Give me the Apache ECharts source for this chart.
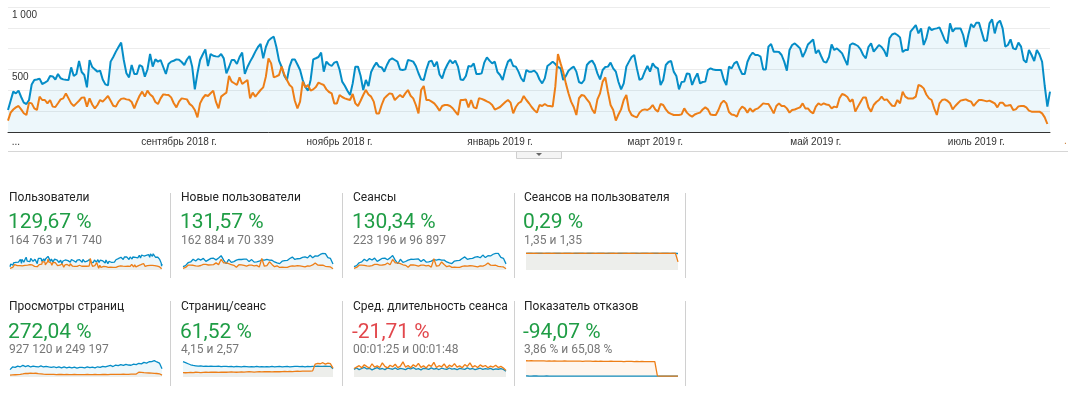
<!DOCTYPE html>
<html><head><meta charset="utf-8">
<script src="https://cdn.jsdelivr.net/npm/echarts@6/dist/echarts.min.js"></script>
<style>html,body{margin:0;padding:0;background:#fff}#c{width:1080px;height:394px}</style>
</head><body><div id="c"></div>
<script>
// ---------- main chart: daily users (current = blue, previous = orange) ----------
const startDate = [2018, 5, 28]; // 28 June 2018
const dayCount = 397;
const usersCur = [
176,250,323,309,331,280,235,224,256,380,
416,420,427,384,395,408,448,445,420,464,
430,421,418,416,517,448,464,568,480,456,
357,576,520,501,483,491,420,381,373,563,
600,643,680,715,576,470,437,536,464,464,
536,523,443,500,624,523,581,563,576,520,
464,544,563,570,581,578,560,536,580,608,
523,341,470,576,620,661,528,624,610,605,
603,624,589,469,520,576,576,544,600,635,
464,520,563,600,643,680,704,589,680,731,
750,763,680,571,520,450,416,523,581,581,
540,496,416,360,331,416,581,590,600,635,
483,563,540,528,555,563,500,403,370,330,
296,389,523,523,
450,336,416,368,480,523,
555,523,517,483,536,576,589,576,563,500,
496,501,576,571,563,528,470,421,416,500,
563,571,523,563,460,429,496,540,576,549,
571,523,420,416,448,528,523,549,464,464,
469,555,597,571,549,563,480,456,416,500,
563,581,528,523,483,430,403,496,483,483,
491,469,420,389,429,528,544,563,544,520,
509,416,448,490,509,523,483,400,389,416,
536,560,571,536,469,421,496,520,523,555,
509,483,400,341,389,523,563,600,616,509,
416,429,483,528,483,549,520,509,376,416,
536,560,568,483,448,341,400,403,469,464,
376,429,469,389,400,403,496,509,500,496,
496,496,420,376,523,509,549,563,509,464,
464,560,608,635,616,616,603,501,501,683,
704,643,643,640,616,563,491,656,696,709,
690,669,600,643,700,720,741,629,656,608,
563,555,600,700,656,669,650,629,581,536,
696,709,700,688,661,616,589,680,709,643,
669,696,680,651,603,750,780,789,776,757,
640,656,656,803,829,856,789,829,696,749,
840,816,825,829,837,789,736,709,869,803,
829,829,829,776,680,780,864,837,875,875,
803,731,731,869,901,789,870,891,829,683,
696,741,669,661,715,683,576,555,656,616,
568,656,620,562,368,203,323];
const usersPrev = [
91,155,180,197,208,181,150,136,235,229,
189,176,283,256,256,229,256,203,200,230,
261,269,309,269,229,208,229,250,275,277,
203,269,220,189,216,256,243,265,288,250,
210,203,243,265,269,261,258,240,189,243,
290,323,283,331,300,283,240,224,269,301,
298,296,277,230,197,243,269,265,261,225,
208,176,117,229,270,296,288,310,331,243,
189,283,300,315,448,403,390,376,437,384,
400,416,269,315,283,310,336,357,443,589,
549,437,445,456,523,460,416,376,357,250,
189,243,403,357,376,331,341,360,395,385,
376,341,320,309,229,229,296,280,269,262,
256,304,229,208,
250,296,336,300,283,243,
149,149,216,269,290,309,304,256,277,296,
277,309,336,290,269,216,149,336,368,256,
256,243,229,203,170,208,216,216,208,190,
163,136,256,256,261,197,256,197,189,270,
265,256,245,235,216,180,189,200,220,240,
256,235,149,200,230,243,288,256,230,200,
175,155,216,208,224,210,208,203,363,624,
549,480,389,310,243,200,136,270,296,290,
261,235,180,149,261,309,403,437,320,216,
176,91,140,181,256,296,176,136,125,117,
155,175,181,176,189,216,180,163,224,216,
181,155,145,136,136,136,141,189,155,135,
123,140,149,155,180,197,181,140,136,136,
176,229,251,229,160,140,136,123,176,203,
189,155,189,163,181,189,208,229,225,224,
189,149,208,229,208,208,189,155,176,180,
189,197,229,189,189,163,149,203,229,216,
229,220,216,189,203,197,270,304,296,280,
243,261,163,203,240,277,277,197,163,216,
240,256,283,256,261,235,210,208,256,229,
323,283,269,269,269,283,376,368,349,300,
270,256,189,136,229,256,261,250,230,181,
208,230,251,256,261,250,243,208,235,256,
256,251,245,251,240,229,197,235,235,210,
212,216,176,181,205,208,208,197,171,163,
163,163,163,149,117,64];
const tickDates = ['2018-07-01','2018-09-01','2018-11-01','2019-01-01','2019-03-01','2019-05-01','2019-07-01'];
const tickLabels = ['...','сентябрь 2018 г.','ноябрь 2018 г.','январь 2019 г.','март 2019 г.','май 2019 г.','июль 2019 г.'];
const yTickValues = [500, 1000];
const yTickLabels = ['500', '1 000'];

// ---------- KPI panels ----------
const kpiTitles = ['Пользователи','Новые пользователи','Сеансы','Сеансов на пользователя','Просмотры страниц','Страниц/сеанс','Сред. длительность сеанса','Показатель отказов'];
const kpiChanges = ['129,67 %','131,57 %','130,34 %','0,29 %','272,04 %','61,52 %','-21,71 %','-94,07 %'];
const kpiTotals = ['164 763 и 71 740','162 884 и 70 339','223 196 и 96 897','1,35 и 1,35','927 120 и 249 197','4,15 и 2,57','00:01:25 и 00:01:48','3,86 % и 65,08 %'];
const kpiPositive = [true,true,true,true,true,true,false,true];

// sparkline series (sampled over the same period)
const newUsersCur = [175,230,380,420,560,470,590,520,610,450,530,610,615,530,630,750,515,330,555,400,440,515,555,550,565,570,440,545,410,425,460,535,515,550,515,510,420,370,335,460,490,500,600,675,555,590,600,660,690,635,770,645,740,725,815,865,860,650,605,310];
const newUsersPrev = [90,135,250,258,248,214,208,236,296,294,262,266,280,372,280,560,372,372,336,276,246,148,274,266,240,206,258,252,218,240,153,600,198,232,430,292,173,221,135,148,135,139,186,221,205,226,213,195,161,213,208,266,370,258,248,253,195,179,161,63];
const sessionsCur = [240,310,520,580,770,650,820,720,850,620,730,840,850,740,870,1040,710,450,770,550,610,710,770,760,780,790,610,760,570,590,640,740,710,760,710,710,580,510,460,640,680,690,830,940,770,820,830,920,960,880,1070,890,1030,1010,1130,1200,1190,900,840,440];
const sessionsPrev = [125,185,345,350,335,290,285,320,400,400,355,360,380,505,380,760,505,505,455,375,335,200,370,360,325,280,350,345,295,325,210,810,270,315,580,395,235,300,185,200,185,190,255,300,280,305,290,265,220,290,280,360,500,350,335,340,265,240,220,85];
const spuCur = [1.34,1.36,1.35,1.34,1.36,1.35,1.35,1.34,1.36,1.35,1.34,1.35,1.36,1.35,1.34,1.35,1.36,1.35,1.34,1.35,1.35,1.36,1.35,1.34,1.35,1.36,1.35,1.34,1.35,1.36,1.35,1.34,1.35,1.36,1.35,1.34,1.35,1.35,1.36,1.35,1.34,1.35,1.36,1.35,1.34,1.35,1.36,1.35,1.34,1.35,1.36,1.35,1.34,1.35,1.36,1.35,1.34,1.35,1.35,1.33];
const spuPrev = [1.35,1.36,1.35,1.36,1.35,1.36,1.36,1.35,1.36,1.35,1.36,1.35,1.36,1.36,1.35,1.36,1.35,1.36,1.35,1.36,1.36,1.35,1.36,1.35,1.36,1.36,1.35,1.36,1.35,1.36,1.35,1.36,1.36,1.35,1.36,1.35,1.36,1.36,1.35,1.36,1.35,1.36,1.35,1.36,1.36,1.35,1.36,1.35,1.36,1.35,1.36,1.36,1.35,1.36,1.35,1.36,1.35,1.36,1.35,0.65];
const pvCur = [1700,2300,2200,2500,2350,2650,2400,2600,2300,2500,2400,2300,2550,2300,2450,2300,2200,2350,2150,2300,2100,2300,2100,2250,2100,2250,2050,2200,2200,2100,2300,2150,2250,2100,2350,2200,2450,2300,2500,2650,2400,2750,2600,2850,2650,2900,2750,2700,2950,2850,3150,3000,3350,3200,3500,3550,3750,3450,3200,1900];
const pvPrev = [420,480,520,560,600,700,850,800,880,820,860,780,720,640,580,620,600,580,560,590,570,550,580,560,540,570,550,540,560,540,580,560,540,570,550,540,570,580,560,600,580,600,620,600,630,620,610,640,660,680,1100,1050,1000,960,920,880,840,800,740,420];
const pspCur = [5.5,5.2,4.9,4.6,4.4,4.3,4.2,4.25,4.15,4.2,4.1,4.2,4.15,4.1,4.2,4.05,4.1,4.15,4.05,4.1,4.0,4.1,4.05,4.0,4.1,4.05,3.95,4.05,4.0,4.1,4.0,4.05,3.95,4.05,4.0,4.1,4.0,4.05,4.1,4.0,4.05,4.1,4.0,4.05,4.1,4.15,4.05,4.1,4.0,4.1,4.05,4.1,4.15,4.2,4.1,4.15,4.2,4.1,4.15,3.4];
const pspPrev = [2.3,2.25,2.3,2.35,2.3,2.4,2.35,2.3,2.35,2.4,2.35,2.4,2.45,2.4,2.35,2.4,2.45,2.4,2.45,2.5,2.45,2.4,2.45,2.5,2.45,2.5,2.55,2.5,2.45,2.5,2.55,2.5,2.55,2.6,2.55,2.5,2.55,2.6,2.55,2.6,2.65,2.6,2.65,2.6,2.65,2.7,2.65,2.7,2.75,2.7,2.75,2.8,4.8,5.0,4.9,5.2,4.8,5.1,4.9,3.6];
const durCur = [80,95,78,90,102,85,92,76,88,99,84,90,78,95,88,82,96,80,91,86,78,94,85,100,82,89,76,92,88,81,97,84,90,79,93,86,80,95,83,88,77,92,86,81,96,84,90,78,87,93,80,89,84,91,78,86,82,88,80,60];
const durPrev = [90,105,120,98,130,110,95,140,105,118,100,150,112,96,125,108,135,100,115,160,105,122,98,130,110,145,102,118,95,128,112,155,100,120,108,138,96,125,110,142,104,118,98,132,112,150,105,120,100,128,110,122,98,115,105,125,100,112,95,70];
const bounceCur = [4.3,4.1,4.0,4.2,4.1,4.0,3.9,4.0,4.1,3.9,4.0,3.8,3.6,3.5,3.6,3.5,3.4,3.5,3.6,3.5,3.4,3.5,3.6,3.5,3.4,3.5,3.6,3.5,3.4,3.5,3.6,3.5,3.4,3.5,3.6,3.5,3.4,3.5,3.6,3.5,3.4,3.5,3.6,3.5,3.4,3.5,3.6,3.5,3.4,3.5,3.6,3.5,3.4,3.5,3.6,3.5,3.4,3.5,3.6,3.5];
const bouncePrev = [67,66.5,67,66,66.5,66,66.5,66,65.5,66,65.5,66,65.5,65,65.5,66,65.5,65,65.5,65,65.5,65,64.5,65,65.5,65,64.5,65,64.5,65,64.5,64,64.5,65,64.5,64,64.5,64,63.5,64,64.5,64,63.5,64,63.5,64,63.5,63,63.5,63,63.5,4.5,3.5,3.6,3.5,3.4,3.5,3.6,3.5,3.4];

const sparkCur = [usersCur,newUsersCur,sessionsCur,spuCur,pvCur,pspCur,durCur,bounceCur];
const sparkPrev = [usersPrev,newUsersPrev,sessionsPrev,spuPrev,pvPrev,pspPrev,durPrev,bouncePrev];
const sparkMin = [0,0,0,0,0,1,0,0];
const sparkMax = [910,890,1220,1.37,3900,6,180,70];

// ---------- build ----------
const BLUE = '#058dc7', ORANGE = '#ed7e17';
const BLUE_FILL = 'rgba(5,141,199,0.1)', ORANGE_FILL = 'rgba(237,126,23,0.1)';
const categories = [];
const t0 = Date.UTC(startDate[0], startDate[1], startDate[2]);
for (let i = 0; i < dayCount; i++) categories.push(new Date(t0 + i * 86400000).toISOString().slice(0, 10));

const grids = [{left: 8, top: 7, width: 1042, height: 125}];
const xAxes = [{
  gridIndex: 0, type: 'category', data: categories, boundaryGap: false,
  axisLine: {lineStyle: {color: '#333', width: 1}}, axisTick: {show: false},
  splitLine: {show: false},
  axisLabel: {
    interval: (i, v) => tickDates.indexOf(v) >= 0,
    formatter: v => { const k = tickDates.indexOf(v); return k >= 0 ? tickLabels[k] : ''; },
    color: '#333', fontSize: 10, fontFamily: 'Arial, "Liberation Sans"', margin: 5
  }
}];
const yAxes = [{
  gridIndex: 0, type: 'value', min: 0, max: 1000, interval: 1000 / 6,
  axisLine: {show: false}, axisTick: {show: false},
  splitLine: {lineStyle: {color: '#ececec', width: 1}},
  axisLabel: {
    inside: true, margin: 4, verticalAlign: 'top', padding: [3, 0, 0, 0],
    color: '#333', fontSize: 10, fontFamily: 'Arial, "Liberation Sans"',
    formatter: v => { for (let k = 0; k < yTickValues.length; k++) if (Math.abs(v - yTickValues[k]) < 1) return yTickLabels[k]; return ''; }
  }
}];
const series = [
  {type: 'line', xAxisIndex: 0, yAxisIndex: 0, data: usersCur, symbol: 'none', silent: true,
   lineStyle: {color: BLUE, width: 2}, itemStyle: {color: BLUE}, areaStyle: {color: BLUE_FILL}, z: 2},
  {type: 'line', xAxisIndex: 0, yAxisIndex: 0, data: usersPrev, symbol: 'none', silent: true,
   lineStyle: {color: ORANGE, width: 2}, itemStyle: {color: ORANGE}, z: 3}
];

const colX = [10, 183, 354, 526];
const colW = [152, 150, 152, 152];
const rowTop = [253, 360];
for (let p = 0; p < 8; p++) {
  const r = Math.floor(p / 4), c = p % 4;
  const gi = grids.length;
  grids.push({left: colX[c], top: rowTop[r], width: colW[c], height: 17});
  const n = sparkCur[p].length;
  const idx = []; for (let i = 0; i < n; i++) idx.push(i);
  xAxes.push({gridIndex: gi, type: 'category', data: idx, boundaryGap: false, show: false});
  yAxes.push({gridIndex: gi, type: 'value', min: sparkMin[p], max: sparkMax[p], show: false, splitLine: {show: false}});
  series.push({type: 'line', xAxisIndex: gi, yAxisIndex: gi, data: sparkCur[p], symbol: 'none', silent: true,
    lineStyle: {color: BLUE, width: 1.3}, itemStyle: {color: BLUE}, areaStyle: {color: BLUE_FILL}, z: 2});
  series.push({type: 'line', xAxisIndex: gi, yAxisIndex: gi, data: sparkPrev[p], symbol: 'none', silent: true,
    lineStyle: {color: ORANGE, width: 1.3}, itemStyle: {color: ORANGE}, areaStyle: {color: ORANGE_FILL}, z: 3});
}

const graphic = [];
graphic.push({type: 'line', shape: {x1: 8, y1: 151.5, x2: 1068, y2: 151.5}, style: {stroke: '#d6d6d6', lineWidth: 1}, silent: true});
graphic.push({type: 'rect', shape: {x: 516.5, y: 151.5, width: 45, height: 7}, style: {fill: '#f4f4f4', stroke: '#cfcfcf', lineWidth: 1}, silent: true});
graphic.push({type: 'polygon', shape: {points: [[536, 153], [542, 153], [539, 156]]}, style: {fill: '#666'}, silent: true});
graphic.push({type: 'text', x: 1064, y: 141, style: {text: '.', fill: '#c87a30', font: '10px Arial', verticalAlign: 'middle'}, silent: true});

const textX = [9, 181, 353, 524];
const titleY = [198, 307], pctY = [223, 332.5], totY = [241, 349.5];
const sepX = [170.5, 342.5, 514.5, 685.5];
const sepY = [[193, 278], [301, 386]];
for (let p = 0; p < 8; p++) {
  const r = Math.floor(p / 4), c = p % 4;
  graphic.push({type: 'text', x: textX[c], y: titleY[r], silent: true,
    style: {text: kpiTitles[p], fill: '#222', font: '12px Roboto, Arial', verticalAlign: 'middle', align: 'left'}});
  graphic.push({type: 'text', x: textX[c] - 1, y: pctY[r], silent: true,
    style: {text: kpiChanges[p], fill: kpiPositive[p] ? '#1f9d45' : '#e2474c', font: '21px Roboto, Arial', verticalAlign: 'middle', align: 'left'}});
  graphic.push({type: 'text', x: textX[c], y: totY[r], silent: true,
    style: {text: kpiTotals[p], fill: '#777', font: '12px Roboto, Arial', verticalAlign: 'middle', align: 'left'}});
}
for (let r = 0; r < 2; r++) for (let c = 0; c < 4; c++) {
  graphic.push({type: 'line', silent: true, shape: {x1: sepX[c], y1: sepY[r][0], x2: sepX[c], y2: sepY[r][1]}, style: {stroke: '#d0d0d0', lineWidth: 1}});
}

const chart = echarts.init(document.getElementById('c'), null, {renderer: 'canvas'});
chart.setOption({
  animation: false,
  backgroundColor: '#fff',
  grid: grids, xAxis: xAxes, yAxis: yAxes, series: series, graphic: graphic
});
</script>
</body></html>
